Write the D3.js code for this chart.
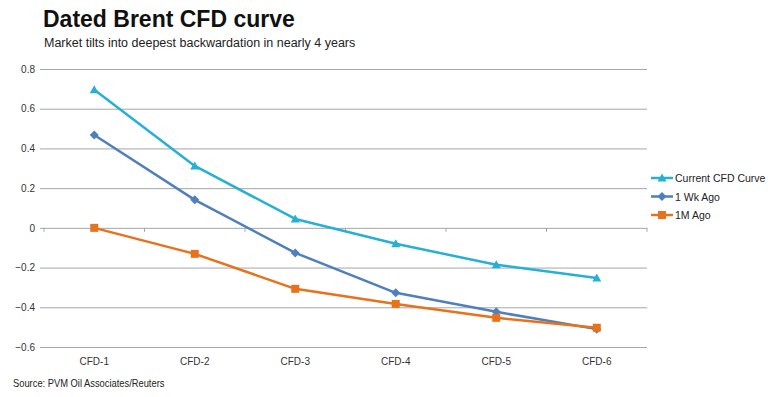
<!DOCTYPE html>
<html>
<head>
<meta charset="utf-8">
<script src="https://cdn.jsdelivr.net/npm/d3@7"></script>
<style>
  body { margin: 0; background: #fff; }
  svg { display: block; font-family: Arial, "Liberation Sans", sans-serif; }
</style>
</head>
<body>
<svg id="chart" width="768" height="397"></svg>
<script>
const categories = ["CFD-1", "CFD-2", "CFD-3", "CFD-4", "CFD-5", "CFD-6"]
const currentCurve = [0.695, 0.312, 0.045, -0.08, -0.186, -0.252]
const oneWeekAgo   = [0.468, 0.141, -0.126, -0.327, -0.423, -0.51]
const oneMonthAgo  = [0.0, -0.131, -0.307, -0.383, -0.453, -0.503]
const yTicks = [0.8, 0.6, 0.4, 0.2, 0, -0.2, -0.4, -0.6]

const series = [
  { name: "Current CFD Curve", values: currentCurve, color: "#25b0d4", marker: "triangle" },
  { name: "1 Wk Ago",          values: oneWeekAgo,   color: "#4f7fbd", marker: "diamond" },
  { name: "1M Ago",            values: oneMonthAgo,  color: "#e8711c", marker: "square" }
]

const svg = d3.select("#chart")
const plot = { left: 44, right: 647, top: 69, bottom: 347 }

const x = d3.scaleBand().domain(categories).range([plot.left, plot.right])
const y = d3.scaleLinear().domain([-0.6, 0.8]).range([plot.bottom, plot.top])

// titles
svg.append("text").attr("x", 43).attr("y", 27)
  .attr("font-size", 23).attr("font-weight", "bold").attr("fill", "#111")
  .text("Dated Brent CFD curve")
svg.append("text").attr("x", 44).attr("y", 47)
  .attr("font-size", 12.5).attr("fill", "#222")
  .text("Market tilts into deepest backwardation in nearly 4 years")

// gridlines + y axis labels
const yAxis = d3.axisLeft(y).tickValues(yTicks)
  .tickSize(plot.right - plot.left + 4)
  .tickFormat(d => d === 0 ? "0" : d3.format(".1f")(d))
const gy = svg.append("g").attr("transform", `translate(${plot.right},0)`).call(yAxis)
gy.select(".domain").remove()
gy.selectAll(".tick line").attr("stroke", "#a6a6a6").attr("stroke-width", 1)
gy.selectAll(".tick text").attr("x", -(plot.right - plot.left) - 9)
  .attr("font-size", 10).attr("fill", "#333").attr("font-family", "Arial, 'Liberation Sans', sans-serif")

// category axis sits on zero with small tick marks at boundaries
const zero = y(0)
svg.append("g").selectAll("line")
  .data(d3.range(categories.length + 1))
  .join("line")
  .attr("x1", i => plot.left + i * x.bandwidth())
  .attr("x2", i => plot.left + i * x.bandwidth())
  .attr("y1", zero).attr("y2", zero + 4)
  .attr("stroke", "#a6a6a6")

svg.append("g").selectAll("text")
  .data(categories)
  .join("text")
  .attr("x", d => x(d) + x.bandwidth() / 2)
  .attr("y", plot.bottom + 18)
  .attr("text-anchor", "middle")
  .attr("font-size", 10).attr("fill", "#333")
  .text(d => d)

// lines
const line = d3.line()
  .x((d, i) => x(categories[i]) + x.bandwidth() / 2)
  .y(d => y(d))

function drawMarker(g, type, cx, cy, color) {
  if (type === "triangle") {
    g.append("path").attr("d", `M${cx},${cy - 4.5}L${cx + 4.5},${cy + 3.5}L${cx - 4.5},${cy + 3.5}Z`).attr("fill", color)
  } else if (type === "diamond") {
    g.append("path").attr("d", `M${cx},${cy - 4.5}L${cx + 4.5},${cy}L${cx},${cy + 4.5}L${cx - 4.5},${cy}Z`).attr("fill", color)
  } else {
    g.append("rect").attr("x", cx - 4).attr("y", cy - 4).attr("width", 8).attr("height", 8).attr("fill", color)
  }
}

series.forEach(s => {
  svg.append("path").datum(s.values)
    .attr("d", line).attr("fill", "none")
    .attr("stroke", s.color).attr("stroke-width", 2.5)
    .attr("stroke-linejoin", "round")
  const mg = svg.append("g")
  s.values.forEach((v, i) => drawMarker(mg, s.marker, x(categories[i]) + x.bandwidth() / 2, y(v), s.color))
})

// legend
const legend = svg.append("g").attr("transform", "translate(651,178)")
series.forEach((s, i) => {
  const g = legend.append("g").attr("transform", `translate(0,${i * 18.5})`)
  g.append("line").attr("x1", 0).attr("x2", 22).attr("y1", 0).attr("y2", 0)
    .attr("stroke", s.color).attr("stroke-width", 2.5)
  drawMarker(g, s.marker, 11, 0, s.color)
  g.append("text").attr("x", 24).attr("y", 4)
    .attr("font-size", 10.5).attr("fill", "#222").text(s.name)
})

// source (narrow face in the original, so squeeze horizontally)
svg.append("text").attr("transform", "translate(13,387) scale(0.85,1)")
  .attr("font-size", 11).attr("fill", "#222")
  .text("Source: PVM Oil Associates/Reuters")
</script>
</body>
</html>
